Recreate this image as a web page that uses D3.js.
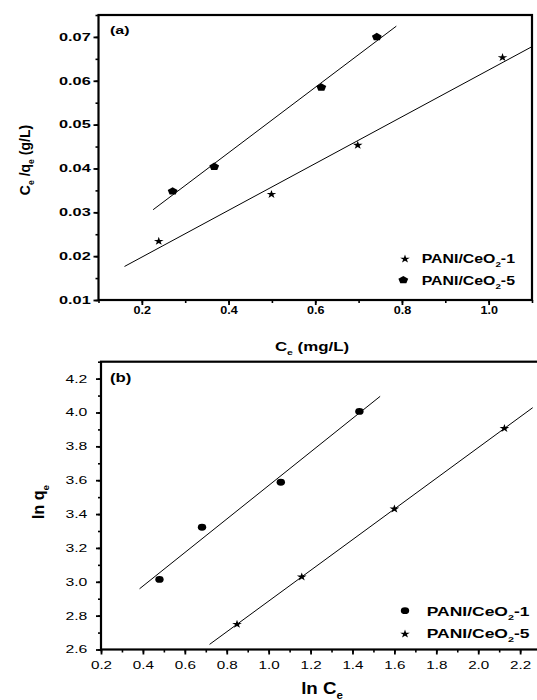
<!DOCTYPE html>
<html>
<head>
<meta charset="utf-8">
<script src="https://cdn.jsdelivr.net/npm/d3@7"></script>
<style>
  body { margin: 0; background: #fff; }
  svg { display: block; }
  text { font-family: "Liberation Sans", Arial, sans-serif; fill: #000; }
</style>
</head>
<body>
<svg id="chart" width="537" height="700"></svg>
<script>
// panel (a): Langmuir, Ce vs Ce/qe
var ceA1 = [0.239, 0.499, 0.698, 1.032];
var qA1  = [0.0234, 0.0341, 0.0453, 0.0653];
var ceA5 = [0.271, 0.367, 0.614, 0.742];
var qA5  = [0.0348, 0.0404, 0.0585, 0.0700];
var fitA1 = [0.16, 1.1];
var fitA5 = [0.226, 0.787];
var ticksAx = [0.2, 0.4, 0.6, 0.8, 1.0];
var ticksAy = [0.01, 0.02, 0.03, 0.04, 0.05, 0.06, 0.07];

// panel (b): Freundlich, ln Ce vs ln qe
var lnCeB1 = [0.479, 0.682, 1.058, 1.433];
var lnQB1  = [3.014, 3.322, 3.588, 4.006];
var lnCeB5 = [0.849, 1.158, 1.600, 2.125];
var lnQB5  = [2.749, 3.029, 3.430, 3.906];
var fitB1 = [0.384, 1.532];
var fitB5 = [0.718, 2.26];
var ticksBx = [0.2, 0.4, 0.6, 0.8, 1.0, 1.2, 1.4, 1.6, 1.8, 2.0, 2.2];
var ticksBy = [2.6, 2.8, 3.0, 3.2, 3.4, 3.6, 3.8, 4.0, 4.2];

var svg = d3.select('#chart');

// least squares line through the points
function fit(xs, ys) {
  var mx = d3.mean(xs), my = d3.mean(ys);
  var sxy = d3.sum(xs, function (x, i) { return (x - mx) * (ys[i] - my); });
  var sxx = d3.sum(xs, function (x) { return (x - mx) * (x - mx); });
  var b = sxy / sxx;
  return function (x) { return my + b * (x - mx); };
}

// text with subscripts, stretched sideways like the source image
function label(g, x, y, opt, parts) {
  var t = g.append('text')
    .attr('transform', 'translate(' + x + ',' + y + ')' + (opt.rot ? ' rotate(-90)' : '') + ' scale(' + (opt.sx || 1) + ',1)')
    .attr('text-anchor', opt.anchor || 'start')
    .style('font-size', opt.size + 'px')
    .style('font-weight', opt.weight || 'bold');
  var shift = 0;
  parts.forEach(function (p) {
    if (typeof p === 'string') {
      t.append('tspan').attr('dy', -shift).text(p);
      shift = 0;
    } else {
      shift = opt.size * 0.3;
      t.append('tspan').attr('dy', shift)
        .style('font-size', (opt.size * 0.62) + 'px').text(p.t);
    }
  });
  return t;
}

function star(g, x, y, size) {
  g.append('path')
    .attr('d', d3.symbol(d3.symbolStar, size)())
    .attr('transform', 'translate(' + x + ',' + y + ') scale(1.15,1)')
    .attr('fill', '#000');
}
function pentagon(g, x, y, r) {
  var pts = d3.range(5).map(function (i) {
    var a = -Math.PI / 2 + i * 2 * Math.PI / 5;
    return [r * Math.cos(a), r * Math.sin(a)];
  });
  g.append('path')
    .attr('d', d3.line()(pts) + 'Z')
    .attr('transform', 'translate(' + x + ',' + y + ') scale(1.2,0.95)')
    .attr('fill', '#000');
}
function dot(g, x, y) {
  g.append('ellipse').attr('cx', x).attr('cy', y)
    .attr('rx', 4.2).attr('ry', 3.4).attr('fill', '#000');
}

function panel(cfg) {
  var g = svg.append('g');
  var x = d3.scaleLinear().domain(cfg.xd).range([cfg.l, cfg.r]);
  var y = d3.scaleLinear().domain(cfg.yd).range([cfg.b, cfg.t]);

  g.append('defs').append('clipPath').attr('id', cfg.id)
    .append('rect').attr('x', cfg.l).attr('y', cfg.t)
    .attr('width', cfg.r - cfg.l).attr('height', cfg.b - cfg.t);

  // minor ticks
  var minorX = d3.range(Math.ceil(cfg.xd[0] * 10), Math.floor(cfg.xd[1] * 10) + 1).map(function (d) { return d / 10; });
  var minorY = d3.range(cfg.yd[0], cfg.yd[1] + 1e-9, cfg.ystep / 2);
  g.append('g').attr('transform', 'translate(0,' + cfg.b + ')')
    .call(d3.axisBottom(x).tickValues(minorX).tickSize(3).tickFormat('').tickSizeOuter(0))
    .call(function (a) { a.select('.domain').remove(); a.selectAll('text').remove(); a.selectAll('line').attr('stroke-width', 1.6); });
  g.append('g').attr('transform', 'translate(' + cfg.l + ',0)')
    .call(d3.axisLeft(y).tickValues(minorY).tickSize(3).tickFormat('').tickSizeOuter(0))
    .call(function (a) { a.select('.domain').remove(); a.selectAll('text').remove(); a.selectAll('line').attr('stroke-width', 1.6); });

  // major ticks and labels
  var ax = g.append('g').attr('transform', 'translate(0,' + cfg.b + ')')
    .call(d3.axisBottom(x).tickValues(cfg.xt).tickSize(5).tickFormat(d3.format('.1f')).tickSizeOuter(0));
  ax.select('.domain').remove();
  ax.selectAll('line').attr('stroke-width', 1.8);
  ax.selectAll('text').attr('y', cfg.xlabY).attr('dy', '0.71em')
    .attr('transform', 'scale(' + cfg.xsx + ',1)')
    .style('font-size', '10.5px').style('font-weight', cfg.tickWeight)
    .style('font-family', '"Liberation Sans", Arial, sans-serif');

  var ay = g.append('g').attr('transform', 'translate(' + cfg.l + ',0)')
    .call(d3.axisLeft(y).tickValues(cfg.yt).tickSize(5).tickFormat(d3.format(cfg.yfmt)).tickSizeOuter(0));
  ay.select('.domain').remove();
  ay.selectAll('line').attr('stroke-width', 1.8);
  ay.selectAll('text').attr('x', -cfg.ylabX / cfg.ysx)
    .attr('transform', 'scale(' + cfg.ysx + ',1)')
    .style('font-size', '10.5px').style('font-weight', cfg.tickWeight)
    .style('font-family', '"Liberation Sans", Arial, sans-serif');

  // frame
  g.append('rect').attr('x', cfg.l).attr('y', cfg.t)
    .attr('width', cfg.r - cfg.l).attr('height', cfg.b - cfg.t)
    .attr('fill', 'none').attr('stroke', '#000').attr('stroke-width', 2.2);

  var plot = g.append('g').attr('clip-path', 'url(#' + cfg.id + ')');
  cfg.series.forEach(function (s) {
    var f = fit(s.xs, s.ys);
    plot.append('path')
      .attr('d', d3.line().x(function (d) { return x(d); }).y(function (d) { return y(f(d)); })(s.range))
      .attr('stroke', '#000').attr('stroke-width', 1).attr('fill', 'none');
    s.xs.forEach(function (v, i) { s.mark(plot, x(v), y(s.ys[i])); });
  });
  return { g: g, x: x, y: y };
}

function starMark(g, x, y) { star(g, x, y, 22); }
function pentMark(g, x, y) { pentagon(g, x, y, 4.3); }

var pa = panel({
  id: 'clipA', l: 98.5, r: 532, t: 15, b: 300,
  xd: [0.1, 1.1], yd: [0.01, 0.075], xt: ticksAx, yt: ticksAy, ystep: 0.01, yfmt: '.2f',
  xsx: 1.2, ysx: 1.55, xlabY: 7, ylabX: 7.8, tickWeight: 'bold',
  series: [
    { xs: ceA1, ys: qA1, range: fitA1, mark: starMark },
    { xs: ceA5, ys: qA5, range: fitA5, mark: pentMark }
  ]
});

var pb = panel({
  id: 'clipB', l: 101, r: 539, t: 361.7, b: 649.5,
  xd: [0.2, 2.29], yd: [2.6, 4.3], xt: ticksBx, yt: ticksBy, ystep: 0.2, yfmt: '.1f',
  xsx: 1.45, ysx: 1.5, xlabY: 12, ylabX: 13.7, tickWeight: 'normal',
  series: [
    { xs: lnCeB1, ys: lnQB1, range: fitB1, mark: dot },
    { xs: lnCeB5, ys: lnQB5, range: fitB5, mark: starMark }
  ]
});

// panel letters
label(pa.g, 110, 34, { size: 11, sx: 1.45 }, ['(a)']);
label(pb.g, 110, 382, { size: 12, sx: 1.4 }, ['(b)']);

// axis titles
label(pa.g, 30, 160, { size: 14, rot: true, anchor: 'middle' }, ['C', { t: 'e' }, ' /q', { t: 'e' }, ' (g/L)']);
label(pa.g, 312, 351, { size: 12.5, sx: 1.35, anchor: 'middle' }, ['C', { t: 'e' }, ' (mg/L)']);
label(pb.g, 44, 502, { size: 16, rot: true, anchor: 'middle' }, ['ln q', { t: 'e' }]);
label(pb.g, 322, 694, { size: 17, sx: 1.1, anchor: 'middle' }, ['ln C', { t: 'e' }]);

// legends
var legA = pa.g.append('g');
star(legA, 405, 259, 22);
label(legA, 421.7, 263, { size: 12.5, sx: 1.27 }, ['PANI/CeO', { t: '2' }, '-1']);
pentagon(legA, 403.3, 280, 4.3);
label(legA, 421.7, 285, { size: 12.5, sx: 1.27 }, ['PANI/CeO', { t: '2' }, '-5']);

var legB = pb.g.append('g');
dot(legB, 405, 610.7);
label(legB, 426.7, 616, { size: 12.5, sx: 1.4 }, ['PANI/CeO', { t: '2' }, '-1']);
star(legB, 405, 634, 22);
label(legB, 426.7, 638, { size: 12.5, sx: 1.4 }, ['PANI/CeO', { t: '2' }, '-5']);
</script>
</body>
</html>
